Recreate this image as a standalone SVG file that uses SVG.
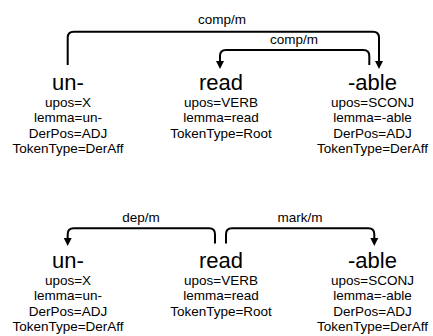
<svg xmlns="http://www.w3.org/2000/svg" width="433" height="336" viewBox="0 0 433 336">
<style>
text{font-family:"Liberation Sans",Arial,sans-serif;fill:#000;text-anchor:middle}
.w{font-size:22px}
.a{font-size:13.5px}
.l{font-size:13.5px}
.arc{fill:none;stroke:#000;stroke-width:2}
</style>
<defs>
<marker id="ah" viewBox="0 0 8 8" refX="2" refY="4" markerWidth="8" markerHeight="8" markerUnits="userSpaceOnUse" orient="auto">
<path d="M0,0 L8,4 L0,8 z" fill="#000"/>
</marker>
</defs>
<rect width="433" height="336" fill="#fff"/>
<g id="connectors">
<path class="arc" d="M67.7,65 V37.7 Q67.7,31.7 73.7,31.7 H373 Q379,31.7 379,37.7 V63" marker-end="url(#ah)"/>
<text class="l" x="222" y="24">comp/m</text>
<path class="arc" d="M369.3,65 V56 Q369.3,50 363.3,50 H226 Q220,50 220,56 V63" marker-end="url(#ah)"/>
<text class="l" x="294" y="44">comp/m</text>
<path class="arc" d="M215,243.5 V234.3 Q215,228.3 209,228.3 H73.7 Q67.7,228.3 67.7,234.3 V240" marker-end="url(#ah)"/>
<text class="l" x="141" y="221.7">dep/m</text>
<path class="arc" d="M226,243.5 V234.3 Q226,228.3 232,228.3 H368.3 Q374.3,228.3 374.3,234.3 V240" marker-end="url(#ah)"/>
<text class="l" x="300" y="221.7">mark/m</text>
</g>
<g id="n1-un">
<text class="w" x="68" y="90">un-</text>
<text class="a" x="68" y="107">upos=X</text>
<text class="a" x="68" y="122.3">lemma=un-</text>
<text class="a" x="68" y="137.6">DerPos=ADJ</text>
<text class="a" x="68" y="152.9">TokenType=DerAff</text>
</g>
<g id="n1-read">
<text class="w" x="221" y="90">read</text>
<text class="a" x="221" y="107">upos=VERB</text>
<text class="a" x="221" y="122.3">lemma=read</text>
<text class="a" x="221" y="137.6">TokenType=Root</text>
</g>
<g id="n1-able">
<text class="w" x="372.5" y="90">-able</text>
<text class="a" x="372.5" y="107">upos=SCONJ</text>
<text class="a" x="372.5" y="122.3">lemma=-able</text>
<text class="a" x="372.5" y="137.6">DerPos=ADJ</text>
<text class="a" x="372.5" y="152.9">TokenType=DerAff</text>
</g>
<g id="n2-un">
<text class="w" x="68" y="268">un-</text>
<text class="a" x="68" y="285">upos=X</text>
<text class="a" x="68" y="300.3">lemma=un-</text>
<text class="a" x="68" y="315.6">DerPos=ADJ</text>
<text class="a" x="68" y="330.9">TokenType=DerAff</text>
</g>
<g id="n2-read">
<text class="w" x="221" y="268">read</text>
<text class="a" x="221" y="285">upos=VERB</text>
<text class="a" x="221" y="300.3">lemma=read</text>
<text class="a" x="221" y="315.6">TokenType=Root</text>
</g>
<g id="n2-able">
<text class="w" x="372.5" y="268">-able</text>
<text class="a" x="372.5" y="285">upos=SCONJ</text>
<text class="a" x="372.5" y="300.3">lemma=-able</text>
<text class="a" x="372.5" y="315.6">DerPos=ADJ</text>
<text class="a" x="372.5" y="330.9">TokenType=DerAff</text>
</g>
</svg>
